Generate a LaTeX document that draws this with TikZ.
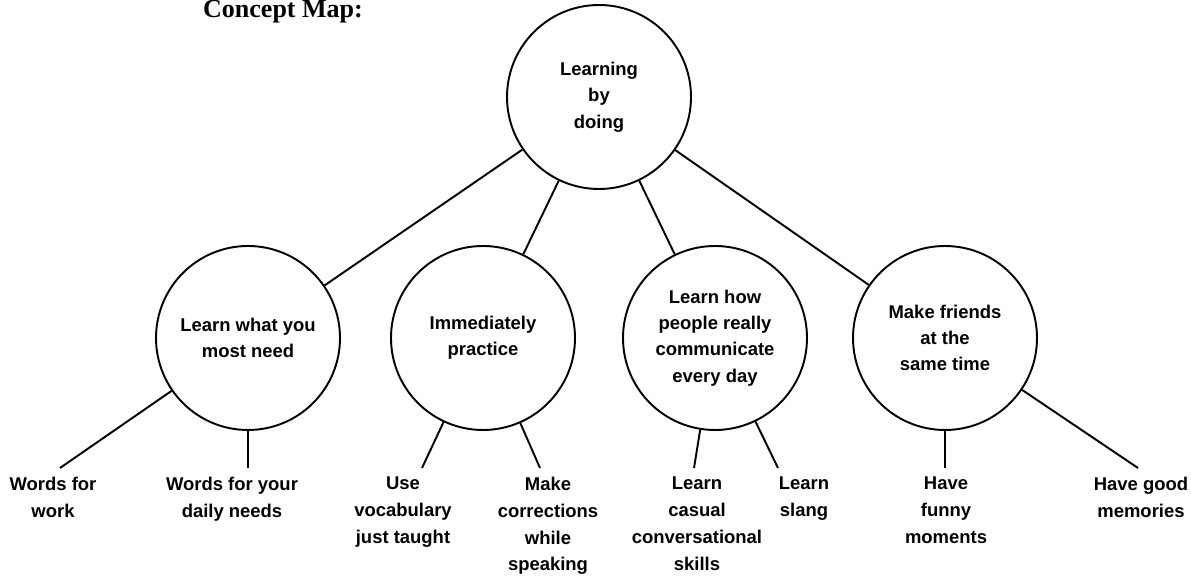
\documentclass[tikz,border=0pt]{standalone}
\usepackage{fontspec}
\setmainfont{Liberation Sans}
\newfontfamily\titfont{Liberation Serif}
\tikzset{circ/.style={draw, circle, minimum size=3.68cm, inner sep=0pt, align=center, font=\fontsize{10.5}{15}\selectfont\bfseries},
         hoja/.style={anchor=north, inner sep=0pt, align=center, font=\fontsize{10.5}{15.3}\selectfont\bfseries}}

\begin{document}
\begin{tikzpicture}[line width=1.1pt]
  \useasboundingbox (0,0) rectangle (23.82,11.58);
  \node[anchor=base, font=\titfont\fontsize{14.8}{16}\selectfont\bfseries] (tit) at (5.66,11.22) {Concept Map:};
  % main circles
  \node[circ] (top) at (11.98,9.64) {Learning\\by\\doing};
  \node[circ] (c1) at (4.96,4.82)  {Learn what you\\most need};
  \node[circ] (c2) at (9.66,4.82)  {Immediately\\practice};
  \node[circ] (c3) at (14.30,4.82) {Learn how\\people really\\communicate\\every day};
  \node[circ] (c4) at (18.90,4.82) {Make friends\\at the\\same time};
  \foreach \c in {c1,c2,c3,c4} \draw (top) -- (\c);
  % free ends of the short lines
  \coordinate (e1) at (1.20,2.22);   \coordinate (e2) at (4.96,2.22);
  \coordinate (e3) at (8.44,2.22);   \coordinate (e4) at (10.80,2.22);
  \coordinate (e5) at (13.88,2.22);  \coordinate (e6) at (15.56,2.22);
  \coordinate (e7) at (18.90,2.22);  \coordinate (e8) at (22.76,2.22);
  \draw (c1) -- (e1);  \draw (c1) -- (e2);
  \draw (c2) -- (e3);  \draw (c2) -- (e4);
  \draw (c3) -- (e5);  \draw (c3) -- (e6);
  \draw (c4) -- (e7);  \draw (c4) -- (e8);
  % leaves
  \node[hoja] (h1) at (1.06,2.06)  {Words for\\work};
  \node[hoja] (h2) at (4.64,2.06)  {Words for your\\daily needs};
  \node[hoja] (h3) at (8.06,2.06)  {Use\\vocabulary\\just taught};
  \node[hoja] (h4) at (10.96,2.06) {Make\\corrections\\while\\speaking};
  \node[hoja] (h5) at (13.94,2.06) {Learn\\casual\\conversational\\skills};
  \node[hoja] (h6) at (16.08,2.06) {Learn\\slang};
  \node[hoja] (h7) at (18.92,2.06) {Have\\funny\\moments};
  \node[hoja] (h8) at (22.82,2.06) {Have good\\memories};
\end{tikzpicture}
\end{document}
